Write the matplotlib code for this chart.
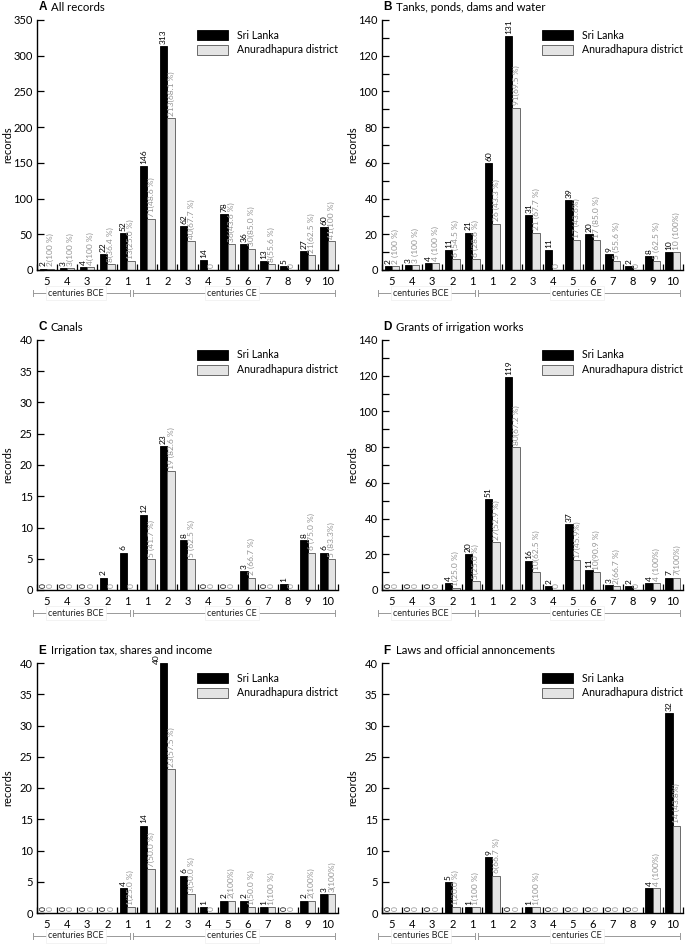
import numpy as np
import matplotlib
matplotlib.use("Agg")
import matplotlib.pyplot as plt
from matplotlib.ticker import MultipleLocator, FixedLocator
import matplotlib.transforms as mtransforms

plt.rcParams['font.family'] = ['Lato', 'DejaVu Sans']

# 세기 (BCE 5..1, CE 1..10)
centuries = ['5', '4', '3', '2', '1', '1', '2', '3', '4', '5', '6', '7', '8', '9', '10']

# A All records
sl_a = [2, 3, 4, 22, 52, 146, 313, 62, 14, 78, 36, 13, 5, 27, 60]
ad_a = [2, 3, 4, 8, 13, 71, 213, 40, 0, 36, 30, 8, 0, 21, 41]
lab_a = ['2(100 %)', '3(100 %)', '4(100 %)', '8(36.4 %)', '13(25.0 %)', '71(48.6 %)',
         '213(68.1 %)', '40(67.7 %)', '0', '36(43.6 %)', '30(85.0 %)', '8(55.6 %)', '0',
         '21(62.5 %)', '41(100 %)']

# B Tanks, ponds, dams and water
sl_b = [2, 3, 4, 11, 21, 60, 131, 31, 11, 39, 20, 9, 2, 8, 10]
ad_b = [2, 3, 4, 6, 6, 26, 91, 21, 0, 17, 17, 5, 0, 5, 10]
lab_b = ['2 (100 %)', '3 (100 %)', '4 (100 %)', '6 (54.5 %)', '6 (28.6 %)', '26 (43.3 %)',
         '91(69.5 %)', '21 (67.7 %)', '0', '17 (43.6%)', '17 (85.0 %)', '5 (55.6 %)', '0',
         '5 (62.5 %)', '10 (100%)']

# C Canals
sl_c = [0, 0, 0, 2, 6, 12, 23, 8, 0, 0, 3, 0, 1, 8, 6]
ad_c = [0, 0, 0, 0, 0, 5, 19, 5, 0, 0, 2, 0, 0, 6, 5]
lab_c = ['0', '0', '0', '0', '0', '5 (41.7 %)', '19 (82.6 %)', '5 (62.5 %)', '0', '0',
         '2 (66.7 %)', '0', '0', '6 (75.0 %)', '5 (83.3%)']

# D Grants of irrigation works
sl_d = [0, 0, 0, 4, 20, 51, 119, 16, 2, 37, 11, 3, 2, 4, 7]
ad_d = [0, 0, 0, 1, 5, 27, 80, 10, 0, 17, 10, 2, 0, 4, 7]
lab_d = ['0', '0', '0', '1(25.0 %)', '5(25.0 %)', '27(52.9 %)', '80(67.2 %)', '10(62.5 %)',
         '0', '17(45.9%)', '10(90.9 %)', '2(66.7 %)', '0', '4 (100%)', '7(100%)']

# E Irrigation tax, shares and income
sl_e = [0, 0, 0, 0, 4, 14, 40, 6, 1, 2, 2, 1, 0, 2, 3]
ad_e = [0, 0, 0, 0, 1, 7, 23, 3, 0, 2, 1, 1, 0, 2, 3]
lab_e = ['0', '0', '0', '0', '1(25.0 %)', '7(50.0 %)', '23(57.5 %)', '3(50.0 %)', '0',
         '2(100%)', '1(50.0 %)', '1(100 %)', '0', '2(100%)', '3(100%)']

# F Laws and official annoncements
sl_f = [0, 0, 0, 5, 1, 9, 0, 1, 0, 0, 0, 0, 0, 4, 32]
ad_f = [0, 0, 0, 1, 1, 6, 0, 1, 0, 0, 0, 0, 0, 4, 14]
lab_f = ['0', '0', '0', '1(20.0 %)', '1(100 %)', '6(66.7 %)', '0', '1(100 %)', '0', '0',
         '0', '0', '0', '4 (100%)', '14 (43.8%)']

panels = [
    ('A', 'All records', sl_a, ad_a, lab_a, 350, 50, None),
    ('B', 'Tanks, ponds, dams and water', sl_b, ad_b, lab_b, 140, 20, 10),
    ('C', 'Canals', sl_c, ad_c, lab_c, 40, 5, None),
    ('D', 'Grants of irrigation works', sl_d, ad_d, lab_d, 140, 20, 10),
    ('E', 'Irrigation tax, shares and income', sl_e, ad_e, lab_e, 40, 5, None),
    ('F', 'Laws and official annoncements', sl_f, ad_f, lab_f, 40, 5, None),
]

# 축 위치 (픽셀 기준으로 잡은 값)
lefts = [37 / 685, 382 / 685]
bottoms = [1 - 270 / 944, 1 - 590 / 944, 1 - 913 / 944]
w = 301 / 685
h = 250 / 944

gray_txt = '#939393'
fig = plt.figure(figsize=(6.85, 9.44), dpi=100)

x = np.arange(len(centuries))
bw = 0.37

for i, (letter, title, sl, ad, lab, ymax, major, minor) in enumerate(panels):
    ax = fig.add_axes([lefts[i % 2], bottoms[i // 2], w, h])
    ax.bar(x - 0.19, sl, bw, color='black', edgecolor='black', linewidth=0.6, label='Sri Lanka')
    ax.bar(x + 0.18, ad, bw, color='#e4e4e4', edgecolor='#555555', linewidth=0.6,
           label='Anuradhapura district')

    for xi, v in zip(x, sl):
        # 축 꼭대기에 닿는 막대는 라벨을 왼쪽 옆으로
        off = (-5, -1) if v >= ymax * 0.97 else (0, 1.5)
        ax.annotate(str(v), (xi - 0.19, v), xytext=off, textcoords='offset points',
                    rotation=90, ha='center', va='bottom', fontsize=6, color='black')
    for xi, v, t in zip(x, ad, lab):
        ax.annotate(t, (xi + 0.18, v), xytext=(0, 1.5), textcoords='offset points',
                    rotation=90, ha='center', va='bottom', fontsize=6, color=gray_txt)

    ax.set_xlim(-0.5, 14.5)
    ax.set_ylim(0, ymax)
    ax.yaxis.set_major_locator(MultipleLocator(major))
    if minor:
        ax.yaxis.set_minor_locator(MultipleLocator(minor))
    ax.tick_params(axis='y', direction='in', length=5, width=0.9, labelsize=8, pad=3)
    ax.tick_params(axis='y', which='minor', direction='in', length=5, width=0.9)

    ax.set_xticks(x)
    ax.set_xticklabels(centuries)
    ax.tick_params(axis='x', length=0, labelsize=8, pad=4)
    ax.xaxis.set_minor_locator(FixedLocator(np.arange(-0.5, 15, 1.0)))
    ax.tick_params(axis='x', which='minor', direction='in', length=4, width=0.9)

    for s in ['top', 'right']:
        ax.spines[s].set_visible(False)
    ax.spines['left'].set_linewidth(1.0)
    ax.spines['bottom'].set_linewidth(1.0)

    ax.set_ylabel('records', fontsize=8)
    ax.yaxis.set_label_coords(-0.078, 0.5)

    ax.text(0.005, 1.05, letter, transform=ax.transAxes, fontsize=8.5, fontweight='bold',
            family=['Liberation Sans', 'DejaVu Sans'], va='center', ha='left')
    ax.text(0.045, 1.05, title, transform=ax.transAxes, fontsize=8.2, va='center', ha='left')

    ax.legend(loc='upper left', bbox_to_anchor=(0.5, 1.0), frameon=False, fontsize=7.6,
              handlelength=2.9, handleheight=1.1, labelspacing=0.35, handletextpad=0.9)

    # 세기 구분 표시 (BCE / CE)
    trans = mtransforms.blended_transform_factory(ax.transData, ax.transAxes)
    yb = -0.092
    for x0, x1, txt in [(-0.7, 4.15, 'centuries BCE'), (4.3, 14.35, 'centuries CE')]:
        ax.plot([x0, x1], [yb, yb], color='#999999', lw=0.7, transform=trans, clip_on=False)
        ax.plot([x0, x0], [yb - 0.012, yb + 0.012], color='#999999', lw=0.7,
                transform=trans, clip_on=False)
        ax.plot([x1, x1], [yb - 0.012, yb + 0.012], color='#999999', lw=0.7,
                transform=trans, clip_on=False)
        ax.text((x0 + x1) / 2 - (0.3 if txt.endswith('BCE') else 0.1), yb, txt,
                transform=trans, fontsize=6.5, ha='center', va='center', color='#222222',
                bbox=dict(facecolor='white', edgecolor='#eeeeee', lw=0.5, pad=1.5))

fig.savefig('out.png', dpi=100)
